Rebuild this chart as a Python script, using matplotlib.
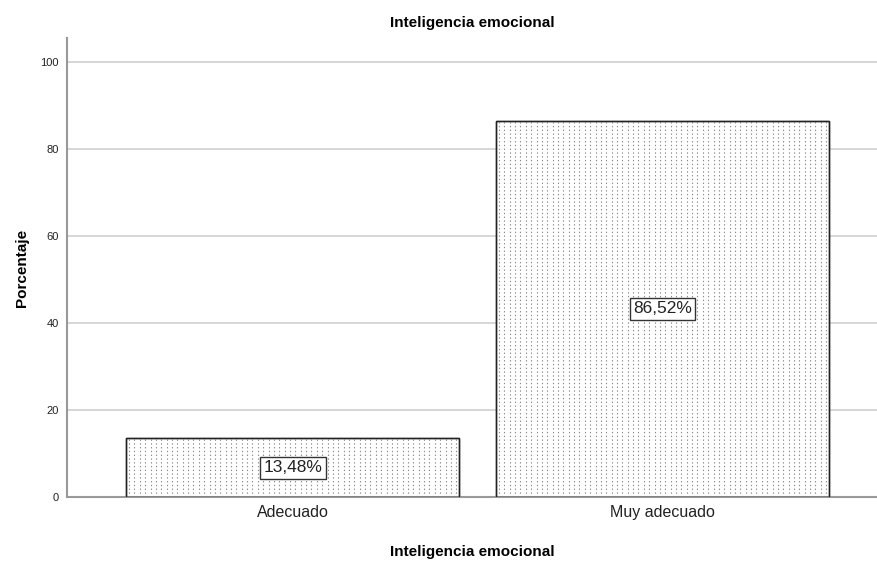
import matplotlib.pyplot as plt
import numpy as np

categories = ['Adecuado', 'Muy adecuado']
percentages = [13.48, 86.52]
value_labels = ['13,48%', '86,52%']
y_ticks = [0, 20, 40, 60, 80, 100]

plt.rcParams['font.family'] = ['Arial', 'Liberation Sans', 'DejaVu Sans']

fig = plt.figure(figsize=(8.78, 5.62), dpi=100)
ax = fig.add_axes([0.0763, 0.1157, 0.9226, 0.8167])

x = np.arange(len(categories))
bars = ax.bar(x, percentages, width=0.9, color='white', edgecolor='#222222',
              linewidth=1.0, zorder=2)

# dotted vertical fill pattern, clipped to each bar
for b in bars:
    x0, w, h = b.get_x(), b.get_width(), b.get_height()
    xs = np.arange(x0 + 0.008, x0 + w, 0.0145)
    lines = ax.vlines(xs, 0, h, colors='#8a8a8a', linestyles=(0, (1.2, 2.2)),
                      linewidth=0.8, zorder=2.5)
    lines.set_clip_path(b)
    ax.bar(b.get_x() + w / 2, h, width=w, fill=False,
           edgecolor='#222222', linewidth=1.0, zorder=3)

for xi, v, lab in zip(x, percentages, value_labels):
    ax.text(xi, v / 2, lab, ha='center', va='center', fontsize=12.5,
            color='#222222', zorder=4,
            bbox=dict(boxstyle='square,pad=0.2', facecolor='white',
                      edgecolor='#333333', linewidth=1.0))

ax.set_xlim(-0.61, 1.58)
ax.set_ylim(0, 105.5)
ax.set_xticks(x)
ax.set_xticklabels(categories, fontsize=11.5, color='#222222')
ax.set_yticks(y_ticks)
ax.set_yticklabels([str(t) for t in y_ticks], fontsize=8, color='#222222')
ax.tick_params(length=0, pad=6)
ax.yaxis.grid(True, color='#d0d0d0', linewidth=1.2, zorder=0)
ax.set_axisbelow(True)

for s in ['top', 'right']:
    ax.spines[s].set_visible(False)
for s in ['left', 'bottom']:
    ax.spines[s].set_color('#999999')
    ax.spines[s].set_linewidth(1.5)

ax.set_title('Inteligencia emocional', fontsize=11, fontweight='bold', pad=8)
ax.set_ylabel('Porcentaje', fontsize=11, fontweight='bold', labelpad=8)
ax.set_xlabel('Inteligencia emocional', fontsize=11, fontweight='bold', labelpad=18)

fig.savefig('out.png', dpi=100)
